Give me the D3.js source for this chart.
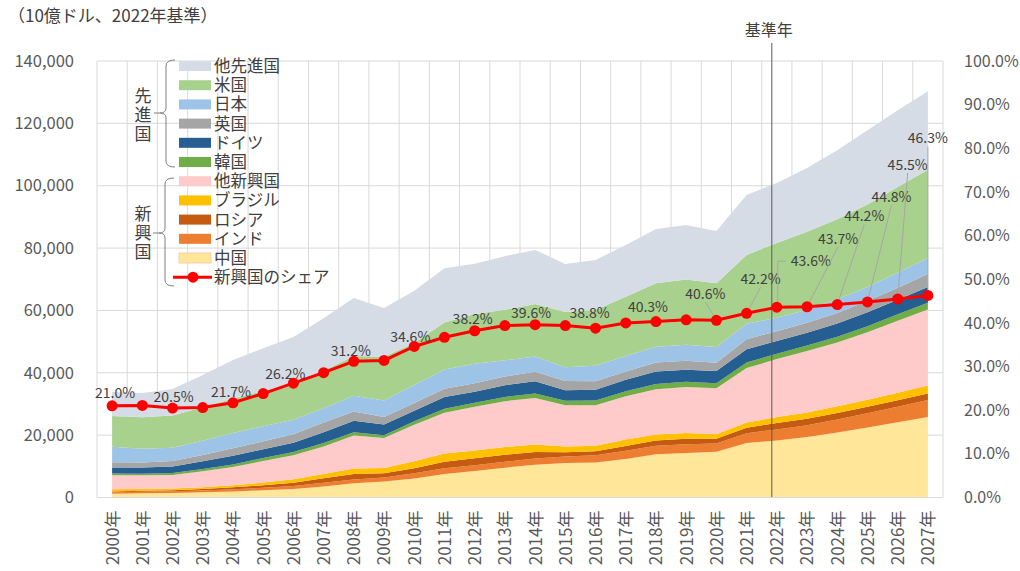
<!DOCTYPE html>
<html>
<head>
<meta charset="utf-8">
<script src="https://cdn.jsdelivr.net/npm/d3@7"></script>
<style>
body { margin: 0; background: #fff; }
svg { font-family: "Noto Sans CJK JP", sans-serif; }
</style>
</head>
<body>
<script>
// data (10億ドル)
const years = ["2000年","2001年","2002年","2003年","2004年","2005年","2006年","2007年","2008年","2009年",
    "2010年","2011年","2012年","2013年","2014年","2015年","2016年","2017年","2018年","2019年",
    "2020年","2021年","2022年","2023年","2024年","2025年","2026年","2027年"];
const china    = [1211,1339,1471,1660,1955,2286,2752,3550,4594,5102,6087,7552,8532,9570,10476,11062,11233,12310,13895,14280,14688,17458,18321,19374,20881,22486,24164,25850];
const india    = [468,485,515,608,709,820,940,1217,1199,1342,1676,1823,1828,1857,2039,2104,2295,2651,2703,2832,2668,3177,3469,3820,4165,4535,4947,5386];
const russia   = [279,328,367,448,610,785,1031,1394,1780,1314,1635,2086,2210,2297,2064,1368,1285,1578,1659,1693,1489,1776,2133,2062,2030,2050,2100,2150];
const brazil   = [655,560,510,558,669,892,1107,1397,1696,1667,2209,2616,2465,2473,2456,1802,1796,2064,1917,1873,1449,1609,1894,2040,2160,2290,2420,2560];
const otherEM  = [4490,4390,4390,5130,5860,6920,7720,8790,10580,9630,11690,13120,14070,14700,14870,13260,12990,13850,14530,14770,14710,17480,18580,19700,20460,21640,23070,24350];
const korea    = [576,547,627,703,793,934,1053,1172,1047,944,1144,1253,1278,1370,1484,1466,1500,1623,1725,1651,1644,1799,1734,1750,1850,1950,2050,2200];
const germany  = [1948,1945,2078,2501,2815,2846,2994,3425,3745,3412,3400,3744,3528,3734,3889,3357,3470,3691,3975,3889,3887,4263,4031,4100,4300,4500,4700,5000];
const uk       = [1665,1649,1785,2054,2422,2543,2708,3091,2923,2410,2485,2664,2707,2785,3065,2934,2700,2680,2871,2851,2697,3188,3199,3200,3350,3550,3800,4150];
const japan    = [4968,4374,4183,4519,4893,4831,4601,4579,5106,5289,5759,6233,6272,5212,4897,4445,5004,4931,5041,5118,5048,4941,4301,4200,4350,4550,4850,5200];
const us       = [9900,10100,10400,10800,11000,11300,11600,12000,12700,14000,13500,15000,16000,16200,16800,17700,17900,19000,20400,21000,20400,22100,24000,25000,25700,26400,27500,28300];
const otherAdv = [7640,7790,8480,10320,12380,13750,14990,16880,18630,15700,16710,17410,16120,17200,17370,15400,16030,16630,17390,17440,16820,19210,19240,20450,22150,23850,24600,25150];
// 新興国のシェア (%)
const share = [21.0,21.1,20.5,20.6,21.7,23.8,26.2,28.6,31.2,31.4,34.6,36.7,38.2,39.4,39.6,39.4,38.8,40.0,40.3,40.7,40.6,42.2,43.6,43.7,44.2,44.8,45.5,46.3];
const yTicks = [0,20000,40000,60000,80000,100000,120000,140000];
const shareTicks = [0,0.1,0.2,0.3,0.4,0.5,0.6,0.7,0.8,0.9,1.0];
const baseYear = "2022年";

// layers, bottom to top
const series = [
    {key: "china", name: "中国", values: china, color: "#ffe699"},
    {key: "india", name: "インド", values: india, color: "#ed7d31"},
    {key: "russia", name: "ロシア", values: russia, color: "#c55a11"},
    {key: "brazil", name: "ブラジル", values: brazil, color: "#ffc000"},
    {key: "otherEM", name: "他新興国", values: otherEM, color: "#ffcaca"},
    {key: "korea", name: "韓国", values: korea, color: "#70ad47"},
    {key: "germany", name: "ドイツ", values: germany, color: "#255e91"},
    {key: "uk", name: "英国", values: uk, color: "#a5a5a5"},
    {key: "japan", name: "日本", values: japan, color: "#9dc3e6"},
    {key: "us", name: "米国", values: us, color: "#a9d18e"},
    {key: "otherAdv", name: "他先進国", values: otherAdv, color: "#d6dce5"}
];

// label placement for the share line [dx, dy, leader]
const labelOffsets = {0:[3,-13], 2:[1,-11], 4:[-2,-11], 6:[-8,-9], 8:[-3,-10], 10:[-4,-9],
    12:[-2,-12], 14:[-4,-12], 16:[-6,-15], 18:[-8,-14],
    20:[-11,-26,"line"], 21:[14,-34,"line"], 22:[34,-46,"elbow"], 23:[31,-68,"line"],
    24:[27,-88,"line"], 25:[24,-105,"line"], 26:[10,-134,"line"], 27:[0,-157,"line"]};

const width = 1020, height = 571;
const plot = {left: 97, right: 943, top: 61, bottom: 497.5};

var table = years.map(function(y, i) {
    var row = {year: y};
    series.forEach(function(s) { row[s.key] = s.values[i]; });
    return row;
});

var xScale = d3.scalePoint().domain(years).range([plot.left, plot.right]).padding(0.5);
var yScale = d3.scaleLinear().domain([0, 140000]).range([plot.bottom, plot.top]);
var shareScale = d3.scaleLinear().domain([0, 1]).range([plot.bottom, plot.top]);

var svg = d3.select("body").append("svg")
    .attr("width", width)
    .attr("height", height);

function drawGrid() {
    var step = xScale.step();
    svg.append("g").selectAll("line.h")
        .data(yTicks).enter().append("line")
        .attr("x1", plot.left).attr("x2", plot.right)
        .attr("y1", function(d) { return yScale(d); })
        .attr("y2", function(d) { return yScale(d); })
        .attr("stroke", "#d9d9d9");
    svg.append("g").selectAll("line.v")
        .data(d3.range(years.length + 1)).enter().append("line")
        .attr("x1", function(i) { return plot.left + i * step; })
        .attr("x2", function(i) { return plot.left + i * step; })
        .attr("y1", plot.top).attr("y2", plot.bottom)
        .attr("stroke", "#d9d9d9");
}

function drawAreas() {
    var stack = d3.stack().keys(series.map(function(s) { return s.key; }));
    var layers = stack(table);
    var area = d3.area()
        .x(function(d) { return xScale(d.data.year); })
        .y0(function(d) { return yScale(d[0]); })
        .y1(function(d) { return yScale(d[1]); });
    svg.append("g").selectAll("path")
        .data(layers).enter().append("path")
        .attr("d", area)
        .attr("fill", function(d, i) { return series[i].color; });
}

function drawBaseYear() {
    var bx = xScale(baseYear) - 5;
    svg.append("line")
        .attr("x1", bx).attr("x2", bx)
        .attr("y1", 43).attr("y2", plot.bottom)
        .attr("stroke", "#595959").attr("stroke-width", 1);
    svg.append("text")
        .attr("x", bx - 3).attr("y", 36)
        .attr("text-anchor", "middle")
        .attr("font-size", "16px").attr("fill", "#404040")
        .text("基準年");
}

function drawAxes() {
    var left = svg.append("g")
        .attr("transform", "translate(" + (plot.left - 20) + ",0)")
        .call(d3.axisLeft(yScale).tickValues(yTicks).tickFormat(d3.format(",")).tickSize(0));
    var right = svg.append("g")
        .attr("transform", "translate(" + (plot.right + 18) + ",0)")
        .call(d3.axisRight(shareScale).tickValues(shareTicks).tickFormat(d3.format(".1%")).tickSize(0));
    var bottom = svg.append("g")
        .attr("transform", "translate(0," + plot.bottom + ")")
        .call(d3.axisBottom(xScale).tickSize(0));
    [left, right, bottom].forEach(function(g) {
        g.select(".domain").remove();
        g.selectAll("text")
            .attr("fill", "#595959")
            .attr("font-size", "16.5px")
            .attr("font-family", "Noto Sans CJK JP, sans-serif");
    });
    right.selectAll("text").attr("font-size", "16px");
    bottom.selectAll("text")
        .attr("font-size", "17px")
        .attr("text-anchor", "end")
        .attr("transform", "rotate(-90)")
        .attr("x", -13).attr("y", 0).attr("dy", "0.35em");
    svg.append("line")
        .attr("x1", plot.left).attr("x2", plot.right)
        .attr("y1", plot.bottom).attr("y2", plot.bottom)
        .attr("stroke", "#d9d9d9");
}

function drawShare() {
    var line = d3.line()
        .x(function(d, i) { return xScale(years[i]); })
        .y(function(d) { return shareScale(d / 100); });
    svg.append("path")
        .datum(share)
        .attr("d", line)
        .attr("fill", "none")
        .attr("stroke", "#ff0000")
        .attr("stroke-width", 3);

    var labels = svg.append("g");
    share.forEach(function(d, i) {
        var off = labelOffsets[i];
        if (!off) return;
        var px = xScale(years[i]), py = shareScale(d / 100);
        var lx = px + off[0], ly = py + off[1];
        if (off[2] == "line") {
            labels.append("line")
                .attr("x1", lx).attr("y1", ly + 8)
                .attr("x2", px).attr("y2", py)
                .attr("stroke", "#a6a6a6");
        } else if (off[2] == "elbow") {
            labels.append("path")
                .attr("d", "M" + (lx - 25) + "," + ly + "H" + (px + 1) + "V" + (py - 3))
                .attr("fill", "none")
                .attr("stroke", "#a6a6a6");
        }
        labels.append("text")
            .attr("x", lx).attr("y", ly)
            .attr("dy", "0.35em")
            .attr("text-anchor", "middle")
            .attr("font-size", "14px")
            .attr("fill", "#404040")
            .text(d.toFixed(1) + "%");
    });
    // points on top of leader lines
    svg.append("g").selectAll("circle")
        .data(share).enter().append("circle")
        .attr("cx", function(d, i) { return xScale(years[i]); })
        .attr("cy", function(d) { return shareScale(d / 100); })
        .attr("r", 5.5)
        .attr("fill", "#ff0000");
}

function drawLegend() {
    var rowH = 19.2, top = 66;
    var items = series.slice().reverse().slice(0, 6)
        .concat(series.slice(0, 5).reverse());
    var g = svg.append("g");
    items.forEach(function(s, i) {
        var y = top + i * rowH;
        g.append("rect")
            .attr("x", 179).attr("y", y - 5)
            .attr("width", 32).attr("height", 10)
            .attr("fill", s.color)
            .attr("stroke", s.key == "china" ? "#f8cbad" : "none");
    });
    var ly = top + items.length * rowH;
    g.append("line")
        .attr("x1", 173).attr("x2", 212).attr("y1", ly).attr("y2", ly)
        .attr("stroke", "#ff0000").attr("stroke-width", 3);
    g.append("circle").attr("cx", 193).attr("cy", ly).attr("r", 5.5).attr("fill", "#ff0000");

    // one text block for all legend names
    var names = items.map(function(s) { return s.name; }).concat(["新興国のシェア"]);
    g.append("text")
        .attr("font-size", "16.5px").attr("fill", "#404040")
        .selectAll("tspan")
        .data(names).enter().append("tspan")
        .attr("x", 214)
        .attr("y", function(d, i) { return top + i * rowH + 6; })
        .text(function(d) { return d; });

    // brackets
    function bracket(x, y0, y1, ym) {
        return "M" + (x + 9) + "," + y0 + "Q" + x + "," + y0 + " " + x + "," + (y0 + 6) +
            "L" + x + "," + (ym - 5) + "Q" + x + "," + ym + " " + (x - 6) + "," + ym +
            "L" + (x - 12) + "," + ym + "M" + (x - 6) + "," + ym +
            "Q" + x + "," + ym + " " + x + "," + (ym + 5) +
            "L" + x + "," + (y1 - 6) + "Q" + x + "," + y1 + " " + (x + 9) + "," + y1;
    }
    g.append("path").attr("d", bracket(166, 60, 167, 113))
        .attr("fill", "none").attr("stroke", "#7f7f7f");
    g.append("path").attr("d", bracket(165, 178, 286, 233))
        .attr("fill", "none").attr("stroke", "#7f7f7f");
    [["先進国", 87], ["新興国", 205]].forEach(function(c) {
        g.append("text")
            .attr("x", 143).attr("y", c[1])
            .attr("writing-mode", "vertical-rl")
            .attr("letter-spacing", "2px")
            .attr("font-size", "17px").attr("fill", "#404040")
            .text(c[0]);
    });
}

svg.append("text")
    .attr("x", 8).attr("y", 16).attr("dy", "0.35em")
    .attr("font-size", "17px").attr("fill", "#404040")
    .text("（10億ドル、2022年基準）");

drawGrid();
drawAreas();
drawBaseYear();
drawAxes();
drawShare();
drawLegend();
</script>
</body>
</html>
